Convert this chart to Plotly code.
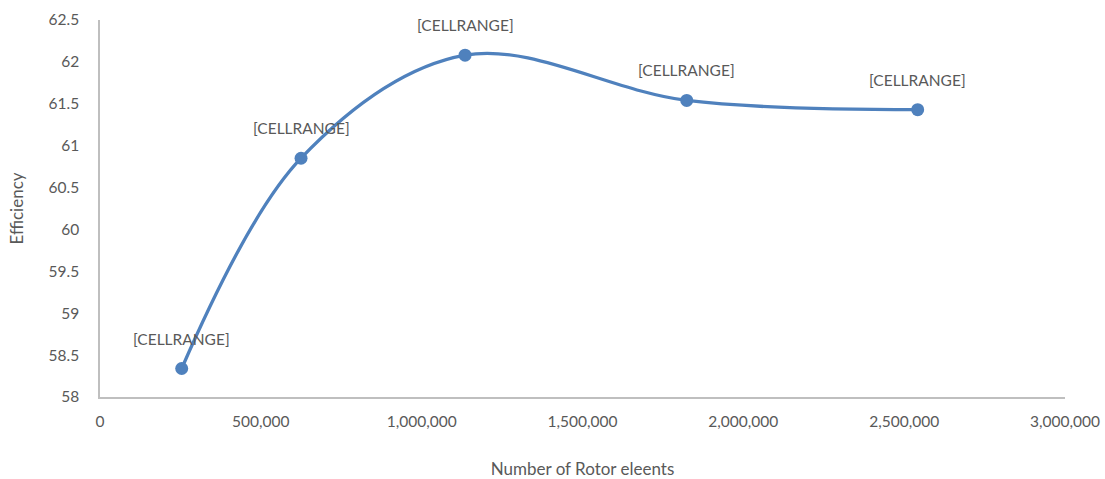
import plotly.graph_objects as go

# Mesh study: rotor element count vs. efficiency
rotor_elements = [254000, 625000, 1135000, 1824000, 2542000]
efficiency = [58.34, 60.85, 62.08, 61.54, 61.43]
point_labels = ["[CELLRANGE]"] * len(rotor_elements)

x_ticks = [0, 500000, 1000000, 1500000, 2000000, 2500000, 3000000]
x_tick_text = ["0", "500,000", "1,000,000", "1,500,000", "2,000,000", "2,500,000", "3,000,000"]
y_ticks = [58, 58.5, 59, 59.5, 60, 60.5, 61, 61.5, 62, 62.5]
y_tick_text = ["58", "58.5", "59", "59.5", "60", "60.5", "61", "61.5", "62", "62.5"]

BLUE = "#4F81BD"
TEXT = "#595959"
AXIS = "#BFBFBF"
FONT = "Lato, 'Open Sans', sans-serif"

fig = go.Figure()
fig.add_trace(go.Scatter(
    x=rotor_elements,
    y=efficiency,
    mode="lines+markers",
    line=dict(color=BLUE, width=3.3, shape="spline", smoothing=1.0),
    marker=dict(color=BLUE, size=13),
    showlegend=False,
    hoverinfo="x+y",
))

for xv, yv, label in zip(rotor_elements, efficiency, point_labels):
    fig.add_annotation(
        x=xv, y=yv, text=label, showarrow=False,
        yshift=30, font=dict(family=FONT, size=15.5, color=TEXT),
    )

fig.update_layout(
    width=1105,
    height=479,
    margin=dict(l=100, r=40, t=20, b=82),
    paper_bgcolor="white",
    plot_bgcolor="white",
    font=dict(family=FONT, size=16, color=TEXT),
    xaxis=dict(
        range=[0, 3000000],
        tickvals=x_ticks,
        ticktext=x_tick_text,
        tickfont=dict(family=FONT, size=15.5, color=TEXT),
        showgrid=False,
        zeroline=False,
        showline=True,
        linecolor=AXIS,
        linewidth=1.5,
        ticks="",
        ticklabelstandoff=10,
        title=dict(text="Number of Rotor eleents", standoff=37,
                   font=dict(family=FONT, size=17, color=TEXT)),
        automargin=False,
    ),
    yaxis=dict(
        range=[58, 62.5],
        tickvals=y_ticks,
        ticktext=y_tick_text,
        tickfont=dict(family=FONT, size=15.5, color=TEXT),
        showgrid=False,
        zeroline=False,
        showline=True,
        linecolor=AXIS,
        linewidth=1.5,
        ticks="",
        ticklabelstandoff=16,
        title=dict(text="Efficiency", standoff=21,
                   font=dict(family=FONT, size=17, color=TEXT)),
        automargin=False,
    ),
)

fig.write_html("out.html")
